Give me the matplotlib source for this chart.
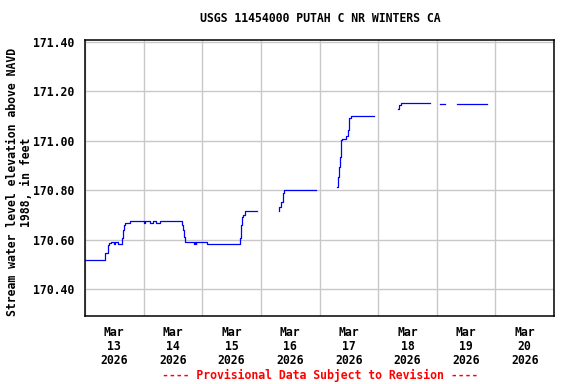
import numpy as np
import matplotlib
matplotlib.use('Agg')
import matplotlib.pyplot as plt

nan = np.nan

# hours since Mar 13 2026 00:00, water level (ft); nan = gap in record
hours = [0.0, 8.2, 9.3, 9.6, 9.8, 10.8, 11.9, 12.2, 13.5, 15.2, 15.6, 16.0, 16.5, 18.3,
         24.2, 24.5, 26.5, 27.9, 28.9, 30.6, 39.6, 40.1, 40.6, 41.0,
         44.6, 44.85, 45.3, 45.55, 50.0, 63.5, 63.9, 64.3, 64.7, 65.4, 70.2, 70.3,
         79.4, 79.6, 80.1, 81.0, 81.4, 94.4, 94.5,
         103.2, 103.6, 103.9, 104.3, 104.6, 104.9, 105.4, 106.8, 107.5, 107.9, 108.1, 108.7, 118.1, 118.2,
         128.2, 128.6, 129.2, 141.0, 141.1,
         145.4, 147.2, 147.3,
         152.2, 164.4]
level = [170.52, 170.545, 170.558, 170.579, 170.585, 170.59, 170.583, 170.59, 170.583, 170.606, 170.64, 170.66, 170.669, 170.677,
         170.669, 170.677, 170.669, 170.677, 170.669, 170.677, 170.66, 170.64, 170.61, 170.589,
         170.583, 170.589, 170.583, 170.589, 170.583, 170.606, 170.66, 170.69, 170.70, 170.718, 170.718, nan,
         170.718, 170.733, 170.753, 170.787, 170.80, 170.80, nan,
         170.814, 170.854, 170.894, 170.935, 170.982, 171.002, 171.009, 171.018, 171.042, 171.076, 171.09, 171.098, 171.098, nan,
         171.13, 171.143, 171.151, 171.151, nan,
         171.15, 171.15, nan,
         171.15, 171.15]

yticks = [170.40, 170.60, 170.80, 171.00, 171.20, 171.40]
day_labels = ['Mar\n13\n2026', 'Mar\n14\n2026', 'Mar\n15\n2026', 'Mar\n16\n2026',
              'Mar\n17\n2026', 'Mar\n18\n2026', 'Mar\n19\n2026', 'Mar\n20\n2026']

font = {'family': 'DejaVu Sans Mono', 'weight': 'bold', 'size': 8.3}

fig = plt.figure(figsize=(5.76, 3.84), dpi=100)
ax = fig.add_axes([85 / 576, 1 - 316 / 384, 469 / 576, 276 / 384])

ax.plot(hours, level, color='#0000ff', lw=0.9, drawstyle='steps-post')

ax.set_xlim(0, 192)
ax.set_ylim(170.292, 171.407)

ax.set_xticks(np.arange(0, 193, 24), minor=False)
ax.set_xticklabels([])
ax.set_xticks(np.arange(12, 192, 24), minor=True)
ax.set_xticklabels(day_labels, minor=True, fontdict=font, linespacing=1.1)
ax.tick_params(axis='x', which='both', length=0, pad=7)

ax.set_yticks(yticks)
ax.set_yticklabels(['%.2f' % v for v in yticks], fontdict=font)
ax.tick_params(axis='y', length=0, pad=8)

ax.grid(True, which='major', color='#c8c8c8', lw=1.0)
ax.set_axisbelow(True)
for s in ax.spines.values():
    s.set_linewidth(1.1)

fig.text(320 / 576, 1 - 19 / 384, 'USGS 11454000 PUTAH C NR WINTERS CA', ha='center', va='center', **font)
fig.text(19.5 / 576, 1 - 182 / 384, 'Stream water level elevation above NAVD\n1988, in feet',
         ha='center', va='center', rotation=90, linespacing=1.05, **font)
fig.text(320 / 576, 1 - 375 / 384, '---- Provisional Data Subject to Revision ----',
         ha='center', va='center', color='red', **font)

fig.savefig('out.png', dpi=100)
